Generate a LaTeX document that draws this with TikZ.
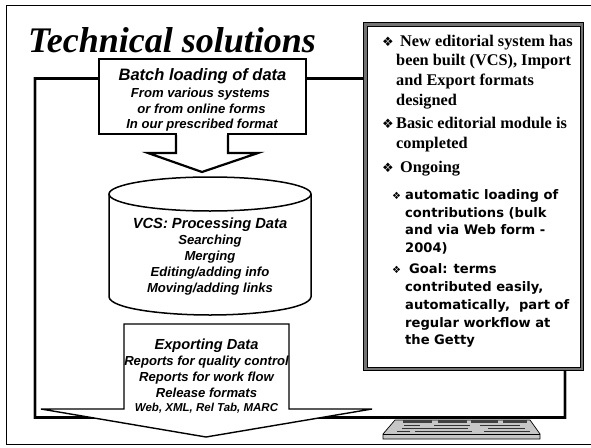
\documentclass[tikz,border=0pt]{standalone}
\usepackage{fontspec}
\setmainfont{Liberation Serif}
\setsansfont{Liberation Sans}
\newfontfamily\verdanafont{DejaVu Sans}
\newfontfamily\dingfont{DejaVu Sans}
\newcommand{\ding}{{\dingfont\symbol{"2756}}}
\tikzset{
  framelines/.style={draw=black, line width=2.6pt},
  sanslabel/.style={font=\sffamily\bfseries\itshape, inner sep=0pt, anchor=base},
  sublabel/.style={sanslabel, font=\sffamily\bfseries\itshape\fontsize{13.1}{13.1}\selectfont},
  bulletlabel/.style={inner sep=0pt, anchor=base west, font=\rmfamily\bfseries\fontsize{16.3}{16.3}\selectfont},
  verdlabel/.style={inner sep=0pt, anchor=base west, font=\verdanafont\bfseries\fontsize{13.1}{13.1}\selectfont},
  marklabel/.style={inner sep=0pt, anchor=base west, font=\fontsize{13}{13}\selectfont},
  smallmark/.style={inner sep=0pt, anchor=base west, font=\fontsize{10}{10}\selectfont},
}
\begin{document}
\begin{tikzpicture}
      [x=1pt, y=-1pt,
      line join=miter,
      ]
      \useasboundingbox (0,0) rectangle (591,447);
      \fill[white] (0,0) rectangle (591,447);
      % outer frame
      \draw[line width=1.8pt] (600,5.5) -- (6.5,5.5) -- (6.5,444.5) -- (600,444.5);
      \node[font=\rmfamily\bfseries\itshape\fontsize{36}{36}\selectfont, inner sep=0pt, anchor=base west] (title) at (28,52) {Technical solutions};
      % monitor outline
      \draw[draw=gray!60, line width=3.8pt] (365,78.5) -- (35,78.5) -- (35,417.5) -- (565,417.5) -- (565,370);
      \draw[framelines] (365,78.5) -- (35,78.5) -- (35,417.5) -- (565,417.5) -- (565,370);
      % keyboard
      \draw[fill=gray!45, line width=.7pt] (395,420) -- (530,420) -- (540,434) -- (540,439) -- (383,439) -- (383,434) -- cycle;
      \draw[line width=.5pt] (383,434) -- (540,434);
      \foreach \y/\a/\b in {425/404/420, 425/434/470, 425/480/520, 428/402/416, 428/412/468, 428/488/525, 431/397/410, 431/415/472, 431/484/530}{
        \draw[line width=1pt, black!80] (\a,\y) -- (\b,\y);
      }
      \foreach \a/\b in {403/432, 438/467, 471/498, 503/527}{
        \fill[black!75] (\a,420) rectangle (\b,422.5);
      }
      % batch box with arrow
      \draw[fill=white, line width=2.2pt] (99,59) rectangle (306,134);
      \draw[fill=white, line width=2.2pt] (176,134) -- (176,153) -- (148,153) -- (202,172) -- (258,153) -- (228,153) -- (228,134);
      \fill[white] (177.2,131) rectangle (226.8,135.2);
      \node[sanslabel, font=\sffamily\bfseries\itshape\fontsize{16.5}{16.5}\selectfont] (batch) at (202.5,80) {Batch loading of data};
      \node[sublabel] (froma) at (200.5,97.5) {From various systems};
      \node[sublabel] (fromb) at (201.5,113) {or from online forms};
      \node[sublabel] (fromc) at (202,128) {In our prescribed format};
      % cylinder
      \draw[fill=white, line width=1.5pt] (109,194) -- (109,297) .. controls (111,309) and (165,315) .. (210,315) .. controls (255,315) and (309,309) .. (311,297) -- (311,194);
      \draw[fill=white, line width=1.5pt] (210,194) ellipse [x radius=101, y radius=17];
      \node[sanslabel, font=\sffamily\bfseries\itshape\fontsize{14.7}{14.7}\selectfont] (vcs) at (210,228) {VCS: Processing Data};
      \node[sublabel] (vcsa) at (210,244) {Searching};
      \node[sublabel] (vcsb) at (210,260) {Merging};
      \node[sublabel] (vcsc) at (210,276) {Editing/adding info};
      \node[sublabel] (vcsd) at (210,292) {Moving/adding links};
      % export box with arrow
      \draw[fill=white, line width=1.4pt] (124,409) -- (124,324) -- (289,324) -- (289,409) -- (372,409) -- (206,437) -- (41,409) -- cycle;
      \node[sanslabel, font=\sffamily\bfseries\itshape\fontsize{14.6}{14.6}\selectfont] (export) at (206.5,349) {Exporting Data};
      \node[sublabel] (expa) at (206.5,365) {Reports for quality control};
      \node[sublabel] (expb) at (206.5,381) {Reports for work flow};
      \node[sublabel] (expc) at (206.5,397) {Release formats};
      \node[sanslabel, font=\sffamily\bfseries\itshape\fontsize{11.5}{11.5}\selectfont] (expd) at (206.5,411) {Web, XML, Rel Tab, MARC};
      % screen on the right
      \draw[fill=white, draw=black!55, line width=3.4pt] (365,24) rectangle (582,369);
      \draw[black, line width=.6pt] (363.3,22.3) rectangle (583.7,370.7);
      \draw[black, line width=.5pt] (366.8,25.8) rectangle (580.2,367.2);
      \node[marklabel] (mka) at (382,46) {\ding};
      \node[bulletlabel] (la) at (400,46) {New editorial system has};
      \node[bulletlabel] (lb) at (396,65) {been built (VCS), Import};
      \node[bulletlabel] (lc) at (396,85) {and Export formats};
      \node[bulletlabel] (ld) at (396,105) {designed};
      \node[marklabel] (mkb) at (382,128) {\ding};
      \node[bulletlabel] (le) at (396,128) {Basic editorial module is};
      \node[bulletlabel] (lf) at (396,148) {completed};
      \node[marklabel] (mkc) at (382,172) {\ding};
      \node[bulletlabel] (lg) at (400,172) {Ongoing};
      \node[smallmark] (mkd) at (392,199) {\ding};
      \node[verdlabel] (lh) at (405,199) {automatic loading of};
      \node[verdlabel] (li) at (405,217) {contributions (bulk};
      \node[verdlabel] (lj) at (405,234) {and via Web form -};
      \node[verdlabel] (lk) at (405,252) {2004)};
      \node[smallmark] (mke) at (392,273) {\ding};
      \node[verdlabel] (ll) at (409,273) {Goal: terms};
      \node[verdlabel] (lm) at (405,291) {contributed easily,};
      \node[verdlabel] (ln) at (405,309) {automatically,\ \ part of};
      \node[verdlabel] (lo) at (405,327) {regular workflow at};
      \node[verdlabel] (lp) at (405,344) {the Getty};
\end{tikzpicture}
\end{document}
